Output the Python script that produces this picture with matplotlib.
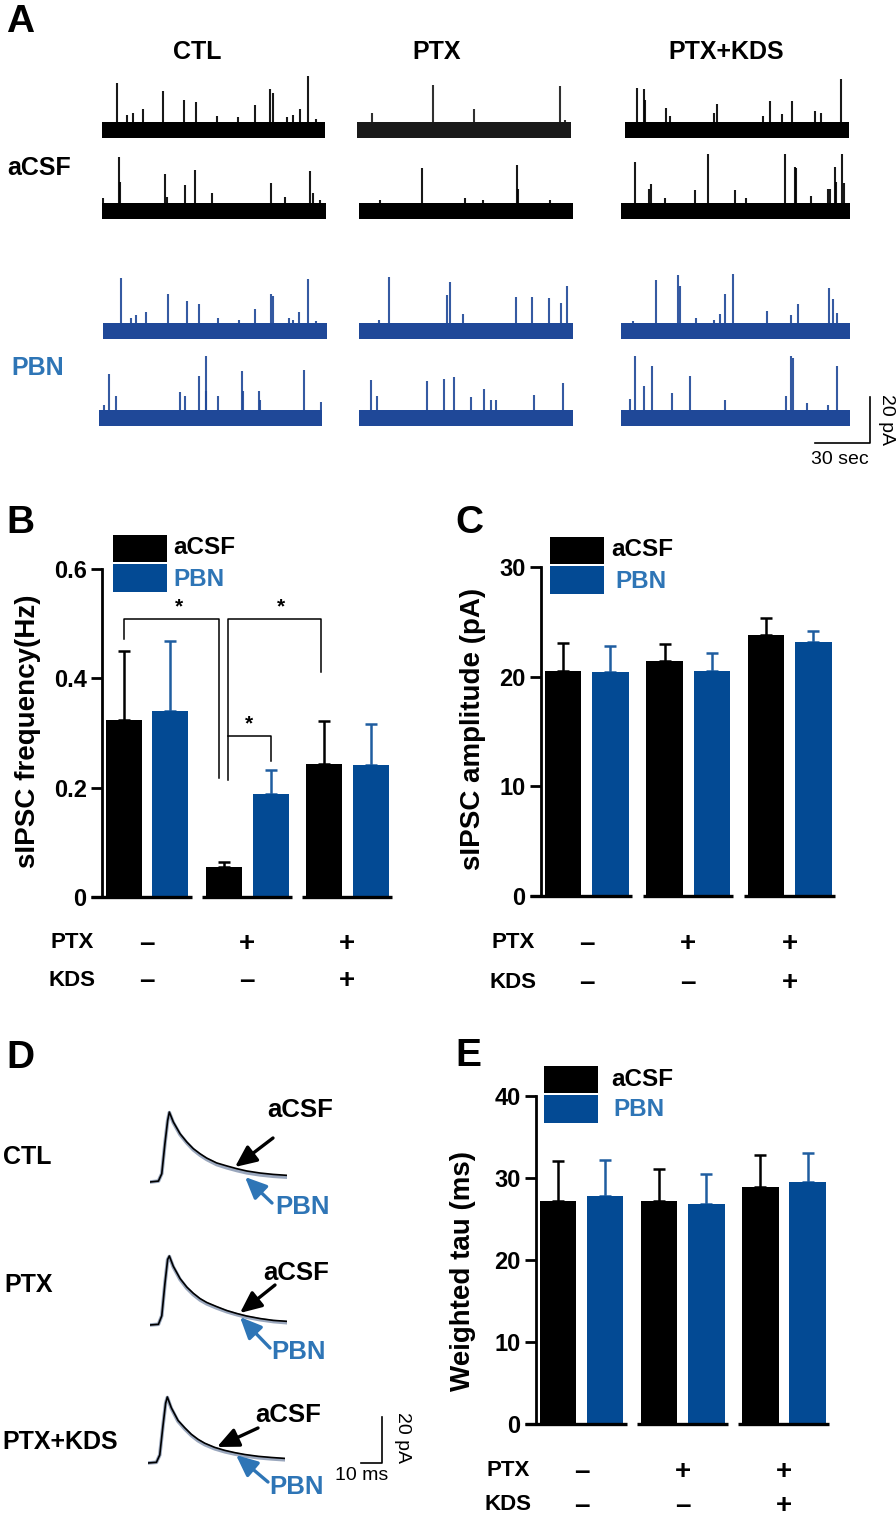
import matplotlib
matplotlib.use('Agg')
import matplotlib.pyplot as plt
from matplotlib.patches import Rectangle
from matplotlib.transforms import blended_transform_factory

plt.rcParams['font.family'] = ['Liberation Sans', 'DejaVu Sans']

# ---------------- data ----------------
groups = ['CTL', 'PTX', 'PTX+KDS']
ptx_signs = ['–', '+', '+']
kds_signs = ['–', '–', '+']
series = ['aCSF', 'PBN']

freq_acsf = [0.323, 0.054, 0.243]
freq_acsf_err = [0.127, 0.010, 0.079]
freq_pbn = [0.340, 0.188, 0.241]
freq_pbn_err = [0.129, 0.044, 0.075]

amp_acsf = [20.5, 21.45, 23.8]
amp_acsf_err = [2.6, 1.5, 1.55]
amp_pbn = [20.4, 20.55, 23.2]
amp_pbn_err = [2.4, 1.6, 1.0]

tau_acsf = [27.16, 27.16, 28.86]
tau_acsf_err = [4.9, 3.9, 3.9]
tau_pbn = [27.77, 26.87, 29.47]
tau_pbn_err = [4.4, 3.66, 3.53]

# significance brackets in panel B
bracket_x1 = [-0.235, 0.803, 0.803]
bracket_x2 = [0.714, 1.741, 1.233]
bracket_top = [0.5085, 0.5085, 0.2945]
bracket_left_end = [0.472, 0.214, 0.2945]
bracket_right_end = [0.218, 0.4116, 0.249]
star_x = [0.32, 1.34, 1.02]

# Panel A spontaneous IPSC traces: event times (s) and amplitudes (pA), 120 s sweeps
acsf1_ctl_t = [8.1, 13.4, 16.7, 22.0, 32.8, 44.2, 50.7, 61.8, 73.4, 82.4, 90.4, 91.9, 99.8, 103.0, 106.6, 111.0, 115.2]
acsf1_ctl_a = [20.3, 6.5, 7.5, 9.0, 17.0, 13.0, 12.3, 6.0, 5.8, 10.9, 17.7, 16.0, 5.8, 6.5, 9.0, 23.5, 5.0]
acsf1_ptx_t = [8.2, 42.8, 65.6, 114.0, 116.4]
acsf1_ptx_a = [7.3, 19.6, 9.0, 19.3, 4.3]
acsf1_kds_t = [6.4, 10.2, 10.6, 22.1, 24.3, 47.7, 49.4, 73.9, 77.7, 84.3, 89.5, 101.6, 105.2, 115.5]
acsf1_kds_a = [18.1, 17.8, 13.0, 9.7, 6.2, 7.3, 11.2, 6.0, 12.6, 6.8, 12.6, 8.3, 7.3, 22.0]

acsf2_ctl_t = [0.7, 9.0, 9.7, 34.0, 34.7, 44.6, 50.0, 58.7, 67.0, 90.3, 98.0, 111.4, 113.2, 116.8]
acsf2_ctl_a = [5.5, 23.3, 12.8, 16.0, 6.0, 11.3, 18.0, 7.7, 3.0, 12.3, 6.2, 17.5, 7.7, 4.8]
acsf2_ptx_t = [12.0, 35.1, 59.3, 69.5, 88.6, 88.9, 106.9]
acsf2_ptx_a = [5.0, 18.9, 5.8, 5.0, 20.0, 9.4, 5.0]
acsf2_kds_t = [7.5, 14.7, 15.9, 23.2, 38.6, 45.6, 59.6, 65.3, 85.8, 91.0, 91.9, 99.4, 108.5, 109.7, 112.0, 112.8, 116.0, 116.7]
acsf2_kds_a = [21.3, 9.7, 11.6, 5.8, 9.1, 25.0, 9.1, 5.8, 25.0, 19.3, 18.8, 6.5, 9.7, 9.7, 19.3, 12.6, 25.0, 12.0]

pbn1_ctl_t = [9.8, 15.0, 17.9, 23.2, 34.8, 45.0, 51.3, 61.4, 72.7, 81.6, 90.0, 91.1, 99.5, 101.8, 104.8, 110.0, 114.3]
pbn1_ctl_a = [23.2, 5.5, 7.0, 8.4, 16.2, 13.0, 11.6, 5.5, 4.6, 9.4, 16.2, 15.2, 5.5, 5.0, 8.4, 22.5, 4.4]
pbn1_ptx_t = [11.2, 16.7, 49.4, 50.8, 58.2, 87.8, 97.2, 106.4, 113.4, 116.5]
pbn1_ptx_a = [4.8, 23.3, 15.7, 21.5, 7.2, 15.0, 15.0, 14.5, 12.0, 19.6]
pbn1_kds_t = [6.1, 18.4, 29.8, 30.7, 39.4, 48.7, 51.7, 54.3, 58.7, 76.7, 89.3, 92.8, 109.0, 111.2, 113.0]
pbn1_kds_a = [4.4, 22.0, 24.4, 19.6, 5.8, 5.0, 7.2, 16.0, 25.0, 8.7, 7.0, 11.6, 18.9, 13.8, 8.0]

pbn2_ctl_t = [2.5, 5.2, 9.3, 43.8, 46.2, 53.9, 57.5, 57.8, 64.1, 76.7, 77.6, 86.2, 86.9, 110.5, 119.5]
pbn2_ctl_a = [5.8, 19.1, 9.4, 11.2, 9.4, 18.4, 29.3, 11.6, 9.4, 20.3, 11.6, 11.6, 8.0, 20.7, 6.8]
pbn2_ptx_t = [7.0, 10.1, 38.2, 47.6, 53.2, 62.9, 70.0, 74.1, 76.9, 98.1, 114.2]
pbn2_ptx_a = [16.7, 9.4, 16.2, 17.1, 17.7, 9.0, 12.8, 8.0, 8.0, 10.2, 15.2]
pbn2_kds_t = [4.9, 7.4, 11.8, 16.1, 26.8, 36.3, 54.3, 86.7, 89.3, 90.2, 97.6, 108.6, 113.0]
pbn2_kds_a = [8.4, 28.3, 13.8, 22.5, 10.9, 18.1, 8.0, 9.4, 28.3, 26.1, 6.5, 5.8, 22.5]

# Panel D averaged sIPSC waveforms: time (ms) and current (pA)
d_time = [0, 4.0, 5.6, 7.1, 8.4, 9.2, 11.1, 14.3, 17.5, 20.6, 23.8, 27.0, 31.7, 36.5, 41.3, 46.0, 52.4, 58.7, 65.1]
ctl_acsf_wave = [0, 0.4, 3.6, 16.7, 26.7, 30.4, 26.1, 21.0, 17.4, 14.5, 12.3, 10.4, 8.3, 7.0, 5.8, 4.8, 3.9, 3.3, 2.9]
ctl_pbn_wave = [0, 0.4, 3.6, 16.7, 26.7, 30.2, 25.8, 20.6, 17.0, 14.0, 11.7, 9.8, 7.6, 6.2, 5.0, 4.0, 3.1, 2.5, 2.1]
ptx_acsf_wave = [0, 0.3, 4.0, 18.0, 28.5, 30.0, 25.5, 20.2, 16.5, 13.8, 11.5, 9.8, 8.0, 6.3, 5.0, 3.9, 2.8, 2.0, 1.6]
ptx_pbn_wave = [0, 0.3, 4.0, 18.0, 28.5, 29.8, 25.2, 19.8, 16.0, 13.2, 10.9, 9.2, 7.4, 5.8, 4.5, 3.4, 2.3, 1.5, 1.0]
kds_acsf_wave = [0, 0.3, 3.5, 16.0, 26.0, 28.7, 24.0, 18.5, 15.3, 12.5, 10.3, 8.6, 6.8, 5.5, 4.5, 3.7, 2.9, 2.4, 2.0]
kds_pbn_wave = [0, 0.3, 3.5, 16.0, 26.0, 28.5, 23.7, 18.1, 14.8, 12.0, 9.7, 8.0, 6.2, 4.9, 3.9, 3.1, 2.3, 1.8, 1.4]

# ---------------- styling ----------------
BLACK = '#000000'
BAR_BLUE = '#034A94'
ERR_BLUE = '#1F5DA0'
TEXT_BLUE = '#2E75B6'
TRACE_BLUE = '#1F4898'
WAVE_GRAY = '#9AA7BD'

W, H = 896, 1520
fig = plt.figure(figsize=(W / 100, H / 100), dpi=100)


def px_axes(left, top, width, height):
    return fig.add_axes([left / W, 1 - (top + height) / H, width / W, height / H])


PX_PER_PA = 2.3


def trace_axes(left, right, base):
    ax = px_axes(left, base - 62, right - left, 80)
    ax.set_xlim(0, 120)
    ax.set_ylim(-18 / PX_PER_PA, 62 / PX_PER_PA)
    ax.axis('off')
    return ax


def draw_trace(ax, t, a, color):
    ax.fill_between([0, 120], -3.3, 3.3, color=color, lw=0)
    ax.vlines(t, 0, a, color=color, lw=1.5, alpha=0.9)


trace_specs = [
    (102, 325, 130, acsf1_ctl_t, acsf1_ctl_a, BLACK),
    (357, 571, 130, acsf1_ptx_t, acsf1_ptx_a, '#1a1a1a'),
    (625, 849, 130, acsf1_kds_t, acsf1_kds_a, BLACK),
    (102, 326, 211, acsf2_ctl_t, acsf2_ctl_a, BLACK),
    (359, 573, 211, acsf2_ptx_t, acsf2_ptx_a, BLACK),
    (621, 850, 211, acsf2_kds_t, acsf2_kds_a, BLACK),
    (103, 327, 331, pbn1_ctl_t, pbn1_ctl_a, TRACE_BLUE),
    (359, 573, 331, pbn1_ptx_t, pbn1_ptx_a, TRACE_BLUE),
    (621, 850, 331, pbn1_kds_t, pbn1_kds_a, TRACE_BLUE),
    (99, 322, 418, pbn2_ctl_t, pbn2_ctl_a, TRACE_BLUE),
    (359, 573, 418, pbn2_ptx_t, pbn2_ptx_a, TRACE_BLUE),
    (621, 850, 418, pbn2_kds_t, pbn2_kds_a, TRACE_BLUE),
]
for left, right, base, t, a, col in trace_specs:
    ax = trace_axes(left, right, base)
    draw_trace(ax, t, a, col)

# scale bar A (30 s, 20 pA)
sa = px_axes(815, 397, 55, 46)
sa.set_xlim(0, 30)
sa.set_ylim(0, 20)
sa.axis('off')
sa.plot([0, 30, 30], [0, 0, 20], color='k', lw=1.2, clip_on=False)

# ---------------- bar panels ----------------
OFF = 0.233
BW = 0.36
SEGMENTS = [(-0.56, 0.45), (0.55, 1.445), (1.55, 2.445)]


def bar_panel(left, top, width, height, ymax, ticks, acsf, acsf_err, pbn, pbn_err):
    ax = px_axes(left, top, width, height)
    x = list(range(len(groups)))
    xa = [g - OFF for g in x]
    xb = [g + OFF for g in x]
    ax.bar(xa, acsf, width=BW, color=BLACK, zorder=2)
    ax.bar(xb, pbn, width=BW, color=BAR_BLUE, zorder=2)
    ax.errorbar(xa, acsf, yerr=[[0] * 3, acsf_err], fmt='none', ecolor=BLACK,
                elinewidth=1.8, capsize=4.5, capthick=1.8, zorder=1)
    ax.errorbar(xb, pbn, yerr=[[0] * 3, pbn_err], fmt='none', ecolor=ERR_BLUE,
                elinewidth=1.8, capsize=4.5, capthick=1.8, zorder=1)
    for a, b in SEGMENTS:
        ax.plot([a, b], [0, 0], color='k', lw=2.4, clip_on=False, solid_capstyle='butt', zorder=3)
    ax.set_xlim(-0.45, 2.445)
    ax.set_ylim(0, ymax)
    for s in ['top', 'right', 'bottom']:
        ax.spines[s].set_visible(False)
    ax.spines['left'].set_linewidth(2)
    ax.set_xticks([])
    ax.set_yticks(ticks)
    ax.set_yticklabels([('%g' % v) for v in ticks])
    ax.tick_params(axis='y', length=8, width=2, pad=3, labelsize=17)
    for lbl in ax.get_yticklabels():
        lbl.set_fontweight('bold')
    ax.patch.set_alpha(0)
    return ax


axB = bar_panel(102, 569, 290, 328, 0.6, [0, 0.2, 0.4, 0.6],
                freq_acsf, freq_acsf_err, freq_pbn, freq_pbn_err)
axC = bar_panel(541, 567, 294, 329, 30, [0, 10, 20, 30],
                amp_acsf, amp_acsf_err, amp_pbn, amp_pbn_err)
axE = bar_panel(536, 1096, 293, 328, 40, [0, 10, 20, 30, 40],
                tau_acsf, tau_acsf_err, tau_pbn, tau_pbn_err)

for x1, x2, yt, y1, y2, sx in zip(bracket_x1, bracket_x2, bracket_top,
                                  bracket_left_end, bracket_right_end, star_x):
    axB.plot([x1, x1, x2, x2], [y1, yt, yt, y2], color='k', lw=1.1, clip_on=False)
    axB.text(sx, yt + 0.004, '*', ha='center', va='bottom', fontsize=15, fontweight='bold')

# ---------------- panel D waveforms ----------------


def wave_axes(left, base):
    ax = px_axes(left, base - 80, 137, 92)
    ax.set_xlim(0, 65.2)
    ax.set_ylim(-12 / PX_PER_PA, 80 / PX_PER_PA)
    ax.axis('off')
    return ax


for left, base, wa, wp in [(150, 1182, ctl_acsf_wave, ctl_pbn_wave),
                           (150, 1325, ptx_acsf_wave, ptx_pbn_wave),
                           (148, 1463, kds_acsf_wave, kds_pbn_wave)]:
    ax = wave_axes(left, base)
    ax.plot(d_time, wp, color=WAVE_GRAY, lw=2.6, solid_joinstyle='round')
    ax.plot(d_time, wa, color='k', lw=1.2)

sd = px_axes(361, 1417, 21, 46)
sd.set_xlim(0, 10)
sd.set_ylim(0, 20)
sd.axis('off')
sd.plot([0, 10, 10], [0, 0, 20], color='k', lw=1.2, clip_on=False)

# ---------------- overlay (text, legends, arrows) ----------------
ov = fig.add_axes([0, 0, 1, 1])
ov.set_xlim(0, W)
ov.set_ylim(H, 0)
ov.axis('off')


def T(x, y, s, size=18, color='k', ha='left', va='center', weight='bold', **kw):
    ov.text(x, y, s, fontsize=size, color=color, ha=ha, va=va, fontweight=weight, **kw)


# panel letters
for x, y, s in [(6, 22, 'A'), (6, 523, 'B'), (455, 523, 'C'), (6, 1058, 'D'), (455, 1056, 'E')]:
    T(x, y, s, size=28)

# panel A labels
for x, s in [(197, 'CTL'), (437, 'PTX'), (726, 'PTX+KDS')]:
    T(x, 52, s, ha='center')
T(7, 168, 'aCSF')
T(11, 368, 'PBN', color=TEXT_BLUE)
T(886, 420, '20 pA', size=14, weight='normal', ha='center', rotation=-90)
T(840, 460, '30 sec', size=14, weight='normal', ha='center')

# legends
for lx, ly, tx_a, tx_b in [(113, 535, 173, 173), (550, 537, 611, 615), (544, 1066, 611, 613)]:
    ov.add_patch(Rectangle((lx, ly), 54, 27, color=BLACK, lw=0))
    ov.add_patch(Rectangle((lx, ly + 29), 54, 28, color=BAR_BLUE, lw=0))
    T(tx_a, ly + 13, series[0], size=17.5)
    T(tx_b, ly + 44, series[1], size=17.5, color=TEXT_BLUE)

# y labels
T(28, 731, 'sIPSC frequency(Hz)', size=20, ha='center', rotation=90)
T(473, 729, 'sIPSC amplitude (pA)', size=20, ha='center', rotation=90)
T(463, 1271, 'Weighted tau (ms)', size=20, ha='center', rotation=90)

# treatment rows under bars
for ax, lab_x, y_ptx, y_kds in [(axB, 72, 943, 980), (axC, 513, 943, 982), (axE, 508, 1471, 1505)]:
    T(lab_x, y_ptx, 'PTX', size=16, ha='center')
    T(lab_x, y_kds, 'KDS', size=16, ha='center')
    tr = blended_transform_factory(ax.transData, ov.transData)
    for g in range(len(groups)):
        ov.text(g, y_ptx + 1, ptx_signs[g], transform=tr, ha='center', va='center',
                fontsize=20, fontweight='bold')
        ov.text(g, y_kds + 1, kds_signs[g], transform=tr, ha='center', va='center',
                fontsize=20, fontweight='bold')

# panel D labels and arrows
T(3, 1157, 'CTL')
T(4, 1285, 'PTX')
T(2, 1442, 'PTX+KDS')
T(402, 1437, '20 pA', size=14, weight='normal', ha='center', rotation=-90)
T(362, 1475, '10 ms', size=14, weight='normal', ha='center')

arrow_sets = [
    ((300, 1110), (273, 1138), (235, 1167), (275, 1207), (272, 1203), (245, 1177)),
    ((296, 1273), (275, 1285), (240, 1313), (271, 1352), (270, 1348), (240, 1317)),
    ((288, 1415), (258, 1428), (217, 1447), (269, 1487), (268, 1482), (236, 1455)),
]
for (atx, aty), a_tail, a_head, (ptx_, pty), p_tail, p_head in arrow_sets:
    T(atx, aty, series[0], ha='center', size=18.5)
    T(ptx_, pty, series[1], color=TEXT_BLUE, size=18.5)
    ov.annotate('', xy=a_head, xytext=a_tail,
                arrowprops=dict(arrowstyle='-|>,head_width=0.45,head_length=1.0',
                                color='k', lw=2.4, shrinkA=0, shrinkB=0, mutation_scale=13))
    ov.annotate('', xy=p_head, xytext=p_tail,
                arrowprops=dict(arrowstyle='-|>,head_width=0.45,head_length=1.0',
                                color=TEXT_BLUE, lw=2.4, shrinkA=0, shrinkB=0, mutation_scale=13))

fig.savefig('out.png', dpi=100)
